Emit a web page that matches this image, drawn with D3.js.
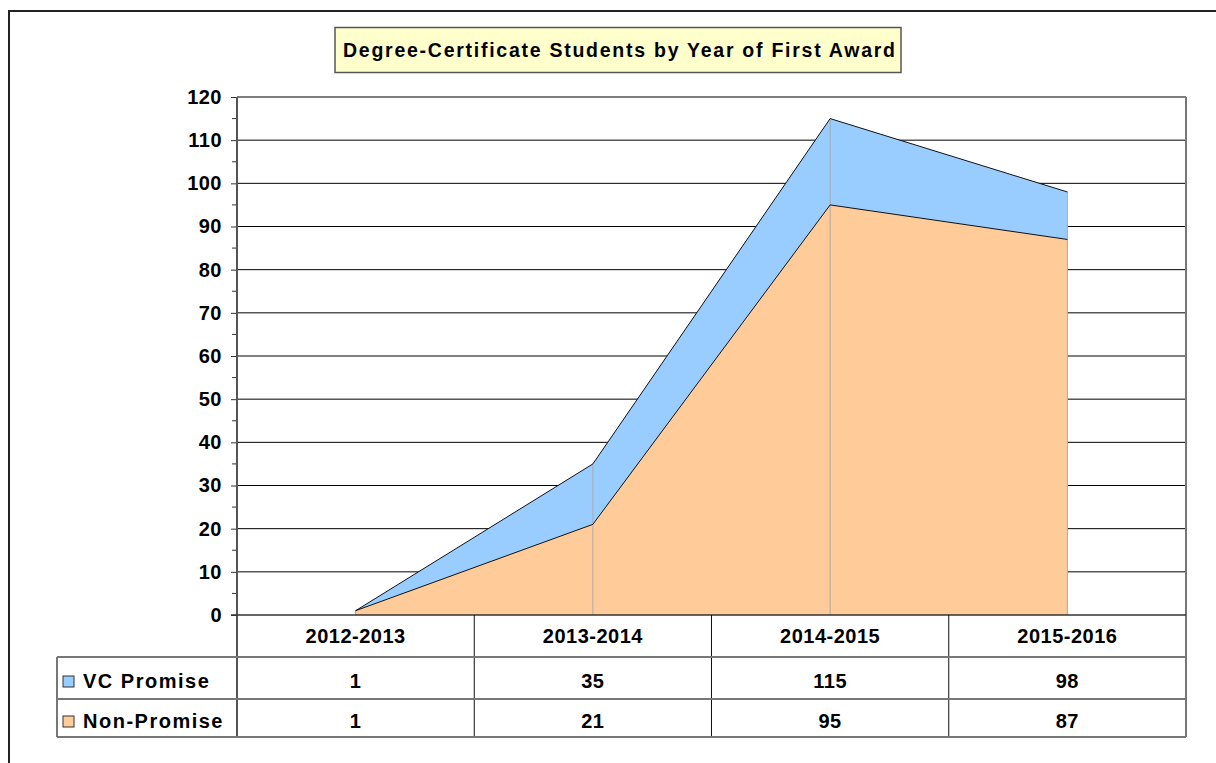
<!DOCTYPE html>
<html>
<head>
<meta charset="utf-8">
<script src="https://cdn.jsdelivr.net/npm/d3@7"></script>
<style>
  html, body { margin: 0; padding: 0; background: #fff; }
  svg { display: block; font-family: "Liberation Sans", Arial, sans-serif; }
</style>
</head>
<body>
<div id="chart"></div>
<script>
// data
const categories = ["2012-2013", "2013-2014", "2014-2015", "2015-2016"];
const vcPromise = [1, 35, 115, 98];
const nonPromise = [1, 21, 95, 87];
const seriesNames = ["VC Promise", "Non-Promise"];
const seriesColors = ["#99CCFF", "#FFCC99"];
const yTickValues = [0, 10, 20, 30, 40, 50, 60, 70, 80, 90, 100, 110, 120];
const titleText = "Degree-Certificate Students by Year of First Award";

const width = 1216, height = 763;
const plot = { left: 237, right: 1186, top: 97, bottom: 615 };
const rowH = [615, 657, 699, 737]; // header row / series rows edges
const legendLeft = 57;

const svg = d3.select("#chart").append("svg")
    .attr("width", width)
    .attr("height", height);

// outer chart border
svg.append("rect")
    .attr("x", 9).attr("y", 11)
    .attr("width", 1400).attr("height", 1000)
    .attr("fill", "#fff")
    .attr("stroke", "#222")
    .attr("stroke-width", 2);

// ---- scales ----
const x = d3.scaleBand()
    .domain(categories)
    .range([plot.left, plot.right]);

const y = d3.scaleLinear()
    .domain([0, 120])
    .range([plot.bottom, plot.top]);

const cx = c => x(c) + x.bandwidth() / 2;

// ---- gridlines ----
svg.append("g")
    .selectAll("line")
    .data(yTickValues.filter(v => v > 0 && v < 120))
    .join("line")
    .attr("x1", plot.left).attr("x2", plot.right)
    .attr("y1", d => y(d)).attr("y2", d => y(d))
    .attr("stroke", "#000")
    .attr("stroke-width", 1);

// ---- areas ----
const vcData = categories.map((c, i) => ({ c, v: vcPromise[i] }));
const npData = categories.map((c, i) => ({ c, v: nonPromise[i] }));

const area = d3.area()
    .x(d => cx(d.c))
    .y0(y(0))
    .y1(d => y(d.v));

const line = d3.line()
    .x(d => cx(d.c))
    .y(d => y(d.v));

[vcData, npData].forEach((data, i) => {
    svg.append("path")
        .attr("d", area(data))
        .attr("fill", seriesColors[i]);
});

// drop lines (light gray verticals at each category)
svg.append("g")
    .selectAll("line")
    .data(vcData)
    .join("line")
    .attr("x1", d => cx(d.c)).attr("x2", d => cx(d.c))
    .attr("y1", d => y(d.v)).attr("y2", y(0))
    .attr("stroke", "#aaa")
    .attr("stroke-width", 1);

[vcData, npData].forEach(data => {
    svg.append("path")
        .attr("d", line(data))
        .attr("fill", "none")
        .attr("stroke", "#111")
        .attr("stroke-width", 1);
});

// ---- plot frame ----
svg.append("line")
    .attr("x1", plot.left).attr("x2", plot.right)
    .attr("y1", plot.top).attr("y2", plot.top)
    .attr("stroke", "#555").attr("stroke-width", 1.5);
svg.append("line")
    .attr("x1", plot.right).attr("x2", plot.right)
    .attr("y1", plot.top).attr("y2", rowH[3])
    .attr("stroke", "#777").attr("stroke-width", 2);

// ---- y axis ----
const yAxis = svg.append("g")
    .attr("transform", `translate(${plot.left},0)`)
    .call(d3.axisLeft(y).tickValues(yTickValues).tickSize(6).tickPadding(9));

yAxis.select(".domain").remove();
yAxis.selectAll(".tick line").attr("stroke", "#333");
yAxis.selectAll(".tick text")
    .attr("font-size", 20)
    .attr("font-weight", "bold")
    .attr("fill", "#000")
    .attr("font-family", "Liberation Sans, Arial, sans-serif")
    .style("letter-spacing", "0.5px");

// minor ticks
svg.append("g")
    .selectAll("line")
    .data(yTickValues.slice(0, -1).map(v => v + 5))
    .join("line")
    .attr("x1", plot.left - 5).attr("x2", plot.left)
    .attr("y1", d => y(d)).attr("y2", d => y(d))
    .attr("stroke", "#333");

svg.append("line")
    .attr("x1", plot.left).attr("x2", plot.left)
    .attr("y1", plot.top).attr("y2", rowH[3])
    .attr("stroke", "#555").attr("stroke-width", 2);

// baseline
svg.append("line")
    .attr("x1", plot.left - 6).attr("x2", plot.right)
    .attr("y1", y(0)).attr("y2", y(0))
    .attr("stroke", "#333").attr("stroke-width", 1.5);

// ---- data table ----
const table = svg.append("g");

// column separators
table.selectAll("line.col")
    .data(categories.slice(1))
    .join("line")
    .attr("class", "col")
    .attr("x1", d => x(d)).attr("x2", d => x(d))
    .attr("y1", rowH[0]).attr("y2", rowH[3])
    .attr("stroke", "#111").attr("stroke-width", 1);

// row lines
table.selectAll("line.row")
    .data(rowH.slice(1))
    .join("line")
    .attr("class", "row")
    .attr("x1", legendLeft).attr("x2", plot.right)
    .attr("y1", d => d).attr("y2", d => d)
    .attr("stroke", "#777").attr("stroke-width", 2);

table.append("line")
    .attr("x1", legendLeft).attr("x2", legendLeft)
    .attr("y1", rowH[1]).attr("y2", rowH[3])
    .attr("stroke", "#777").attr("stroke-width", 2);

const txt = (sel) => sel
    .attr("font-size", 20)
    .attr("font-weight", "bold")
    .attr("fill", "#000")
    .style("letter-spacing", "0.5px");

// header categories
table.selectAll("text.cat")
    .data(categories)
    .join("text")
    .attr("class", "cat")
    .attr("x", d => cx(d))
    .attr("y", 643)
    .attr("text-anchor", "middle")
    .text(d => d)
    .call(txt);

const rows = [vcPromise, nonPromise];
const baselines = [688, 728];

rows.forEach((vals, r) => {
    table.selectAll(`text.val${r}`)
        .data(categories)
        .join("text")
        .attr("class", `val${r}`)
        .attr("x", d => cx(d))
        .attr("y", baselines[r])
        .attr("text-anchor", "middle")
        .text((d, i) => vals[i])
        .call(txt);

    table.append("rect")
        .attr("x", 63).attr("y", baselines[r] - 12)
        .attr("width", 11).attr("height", 11)
        .attr("fill", seriesColors[r])
        .attr("stroke", "#333").attr("stroke-width", 1);

    table.append("text")
        .attr("x", 83)
        .attr("y", baselines[r])
        .text(seriesNames[r])
        .call(txt)
        .style("letter-spacing", "1.5px");
});

// ---- title ----
const title = svg.append("g");
title.append("rect")
    .attr("x", 335).attr("y", 27.5)
    .attr("width", 566).attr("height", 45)
    .attr("fill", "#FFFFCC")
    .attr("stroke", "#555").attr("stroke-width", 1.5);
title.append("text")
    .attr("x", 343)
    .attr("y", 57)
    .attr("font-size", 19.5)
    .attr("font-weight", "bold")
    .attr("fill", "#000")
    .attr("textLength", 552)
    .attr("lengthAdjust", "spacing")
    .text(titleText);
</script>
</body>
</html>
